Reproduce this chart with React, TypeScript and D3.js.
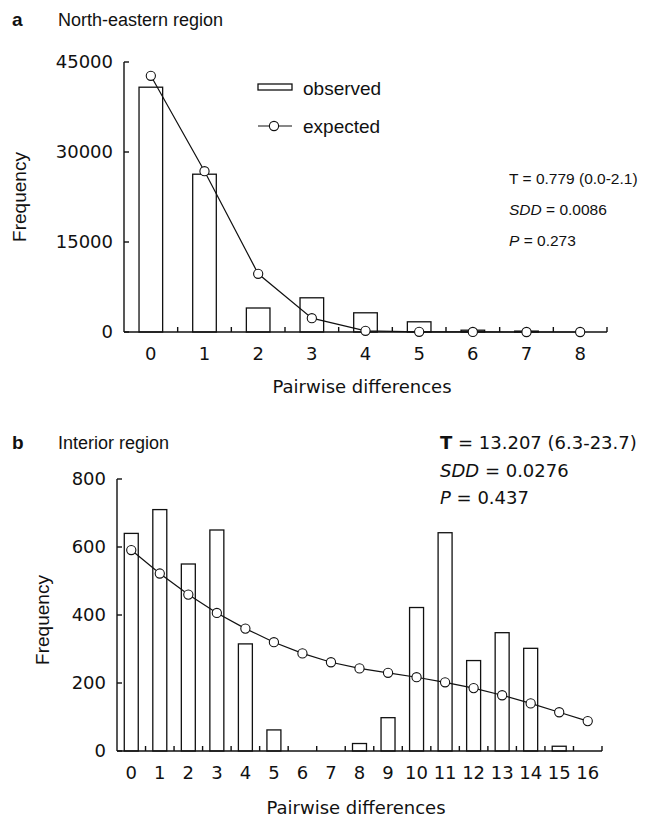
import * as d3 from "d3";

// panel a: North-eastern region
const catsA = ["0", "1", "2", "3", "4", "5", "6", "7", "8"];
const observedA = [40800, 26300, 4000, 5700, 3200, 1700, 300, 150, 0];
const expectedA = [42700, 26800, 9700, 2300, 200, 30, 5, 0, 0];
const ticksA = [0, 15000, 30000, 45000];

// panel b: Interior region
const catsB = ["0", "1", "2", "3", "4", "5", "6", "7", "8", "9", "10", "11", "12", "13", "14", "15", "16"];
const observedB = [640, 710, 550, 650, 315, 62, 0, 0, 22, 98, 422, 642, 266, 348, 302, 14, 0];
const expectedB = [591, 522, 460, 406, 360, 320, 287, 261, 243, 230, 217, 202, 185, 164, 140, 114, 88];
const ticksB = [0, 200, 400, 600, 800];

const FONT = "'Liberation Sans', Arial, sans-serif";
const WIDE = "'DejaVu Sans', sans-serif";

type PanelProps = {
  letter: string;
  title: string;
  titleY: number;
  cats: string[];
  observed: number[];
  expected: number[];
  ticks: number[];
  yMax: number;
  x0: number;
  x1: number;
  yTop: number;
  yBottom: number;
  pad: number;
  labelX: number;
  labelY: number;
  xTitleX: number;
  xTitleY: number;
  stats: string[];
  statsX: number;
  statsY: number;
  statsGap: number;
  statsSize: number;
  statsFont: string;
  boldT?: boolean;
  legend?: boolean;
};

const Panel = (p: PanelProps) => {
  const x = d3.scaleBand().domain(p.cats).range([p.x0, p.x1]).paddingInner(p.pad).paddingOuter(p.pad / 2);
  const y = d3.scaleLinear().domain([0, p.yMax]).range([p.yBottom, p.yTop]);
  const step = x.step();
  const cx = (c: string) => (x(c) as number) + x.bandwidth() / 2;
  const line = d3
    .line<number>()
    .x((_, i) => cx(p.cats[i]))
    .y((d) => y(d));
  const bounds = p.cats.slice(1).map((c) => cx(c) - step / 2);
  bounds.push(p.x1);

  return (
    <g fontFamily={FONT} fill="#111">
      <text x={12} y={p.titleY} fontSize={19} fontWeight="bold">{p.letter}</text>
      <text x={58} y={p.titleY} fontSize={18}>{p.title}</text>

      {/* bars */}
      {p.cats.map((c, i) => (
        <rect
          key={c}
          x={x(c)}
          y={y(p.observed[i])}
          width={x.bandwidth()}
          height={p.yBottom - y(p.observed[i])}
          fill="white"
          stroke="#111"
          strokeWidth={1.3}
        />
      ))}

      {/* axes */}
      <line x1={p.x0} x2={p.x0} y1={p.yTop} y2={p.yBottom} stroke="#111" strokeWidth={1.4} />
      <line x1={p.x0} x2={p.x1} y1={p.yBottom} y2={p.yBottom} stroke="#111" strokeWidth={1.6} />
      {p.ticks.map((t) => (
        <g key={t}>
          <line x1={p.x0} x2={p.x0 + 5} y1={y(t)} y2={y(t)} stroke="#111" strokeWidth={1.4} />
          <text x={p.x0 - 11} y={y(t)} dy="0.36em" textAnchor="end" fontSize={18} fontFamily={WIDE}>{t}</text>
        </g>
      ))}
      {bounds.map((b, i) => (
        <line key={i} x1={b} x2={b} y1={p.yBottom} y2={p.yBottom - 5} stroke="#111" strokeWidth={1.4} />
      ))}
      {p.cats.map((c) => (
        <text key={c} x={cx(c)} y={p.yBottom + 28} textAnchor="middle" fontSize={18} fontFamily={WIDE}>{c}</text>
      ))}
      <text x={p.xTitleX} y={p.xTitleY} textAnchor="middle" fontSize={18} fontFamily={WIDE}>Pairwise differences</text>
      <text
        transform={`translate(${p.labelX},${p.labelY}) rotate(-90)`}
        textAnchor="middle"
        fontSize={19}
      >
        Frequency
      </text>

      {/* expected */}
      <path d={line(p.expected) || ""} fill="none" stroke="#111" strokeWidth={1.2} />
      {p.cats.map((c, i) => (
        <circle key={c} cx={cx(c)} cy={y(p.expected[i])} r={4.6} fill="white" stroke="#111" strokeWidth={1.1} />
      ))}

      {/* stats */}
      <g fontFamily={p.statsFont} fontSize={p.statsSize}>
        <text x={p.statsX} y={p.statsY}>
          <tspan fontWeight={p.boldT ? "bold" : "normal"}>T</tspan> = {p.stats[0]}
        </text>
        <text x={p.statsX} y={p.statsY + p.statsGap}>
          <tspan fontStyle="italic">SDD</tspan> = {p.stats[1]}
        </text>
        <text x={p.statsX} y={p.statsY + 2 * p.statsGap}>
          <tspan fontStyle="italic">P</tspan> = {p.stats[2]}
        </text>
      </g>

      {p.legend && (
        <g>
          <rect x={258} y={84} width={34} height={6} fill="white" stroke="#111" strokeWidth={1.3} />
          <text x={303} y={88} dy="0.35em" fontSize={19}>observed</text>
          <line x1={258} x2={292} y1={126} y2={126} stroke="#111" strokeWidth={1.2} />
          <circle cx={274} cy={126} r={4.6} fill="white" stroke="#111" strokeWidth={1.1} />
          <text x={303} y={126} dy="0.35em" fontSize={19}>expected</text>
        </g>
      )}
    </g>
  );
};

export default function App() {
  return (
    <svg width={650} height={823} style={{ position: "absolute", left: 0, top: 0, background: "white" }}>
      <rect width={650} height={823} fill="white" />
      <Panel
        letter="a"
        title="North-eastern region"
        titleY={26}
        cats={catsA}
        observed={observedA}
        expected={expectedA}
        ticks={ticksA}
        yMax={45000}
        x0={124}
        x1={607}
        yTop={62}
        yBottom={332}
        pad={0.56}
        labelX={26}
        labelY={197}
        xTitleX={362}
        xTitleY={393}
        stats={["0.779 (0.0-2.1)", "0.0086", "0.273"]}
        statsX={509}
        statsY={184}
        statsGap={31}
        statsSize={15.5}
        statsFont={FONT}
        legend
      />
      <Panel
        letter="b"
        title="Interior region"
        titleY={449}
        cats={catsB}
        observed={observedB}
        expected={expectedB}
        ticks={ticksB}
        yMax={800}
        x0={117}
        x1={602}
        yTop={479}
        yBottom={751}
        pad={0.51}
        labelX={49}
        labelY={620}
        xTitleX={356}
        xTitleY={814}
        stats={["13.207 (6.3-23.7)", "0.0276", "0.437"]}
        statsX={440}
        statsY={449}
        statsGap={27.5}
        statsSize={18}
        statsFont={WIDE}
        boldT
      />
    </svg>
  );
}
